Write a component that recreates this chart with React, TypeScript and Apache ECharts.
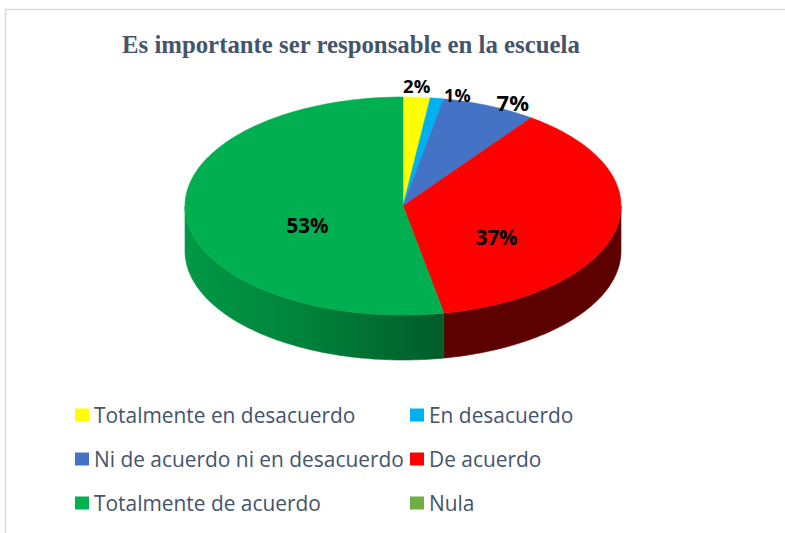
import React, { useEffect, useRef } from 'react';
import * as echarts from 'echarts';

// ---------- data ----------
const categories = [
  'Totalmente en desacuerdo',
  'En desacuerdo',
  'Ni de acuerdo ni en desacuerdo',
  'De acuerdo',
  'Totalmente de acuerdo',
  'Nula',
];
const values = [2, 1, 7, 37, 53, 0];
const chartTitle = 'Es importante ser responsable en la escuela';
const caption = 'Gráfico 6:';

// ---------- styles ----------
const sliceColors = ['#FFFF00', '#00B0F0', '#4472C4', '#FF0000', '#00B050', '#70AD47'];
const labelFontSizes = [18.5, 18, 22, 20.5, 20.5, 20];
const TEXT_COLOR = '#44546A';

// pie geometry (pixels)
const CX = 403;
const CY = 206;
const RX = 218;
const RY = 109;
const DEPTH = 45;

const total = values.reduce((a, b) => a + b, 0);
const cum: number[] = [0];
values.forEach((v) => cum.push(cum[cum.length - 1] + v));

function hexToHsl(hex: string): [number, number, number] {
  const r = parseInt(hex.slice(1, 3), 16) / 255;
  const g = parseInt(hex.slice(3, 5), 16) / 255;
  const b = parseInt(hex.slice(5, 7), 16) / 255;
  const max = Math.max(r, g, b);
  const min = Math.min(r, g, b);
  const l = (max + min) / 2;
  let h = 0;
  let s = 0;
  if (max !== min) {
    const d = max - min;
    s = l > 0.5 ? d / (2 - max - min) : d / (max + min);
    if (max === r) h = (g - b) / d + (g < b ? 6 : 0);
    else if (max === g) h = (b - r) / d + 2;
    else h = (r - g) / d + 4;
    h /= 6;
  }
  return [h, s, l];
}

function hslToHex(h: number, s: number, l: number): string {
  const f = (n: number) => {
    const k = (n + h * 12) % 12;
    const a = s * Math.min(l, 1 - l);
    const c = l - a * Math.max(-1, Math.min(k - 3, 9 - k, 1));
    return Math.round(c * 255)
      .toString(16)
      .padStart(2, '0');
  };
  return '#' + f(0) + f(8) + f(4);
}

function withLightness(hex: string, l: number) {
  const [h, s] = hexToHsl(hex);
  return hslToHex(h, s, l);
}

function pt(deg: number, dy = 0): number[] {
  const r = (deg * Math.PI) / 180;
  return [CX + RX * Math.sin(r), CY - RY * Math.cos(r) + dy];
}

function arc(a: number, b: number, dy: number): number[][] {
  const n = Math.max(2, Math.ceil(Math.abs(b - a)));
  const out: number[][] = [];
  for (let i = 0; i <= n; i++) out.push(pt(a + ((b - a) * i) / n, dy));
  return out;
}

function sideFill(color: string) {
  return {
    type: 'linear',
    x: CX - RX,
    y: 0,
    x2: CX + RX,
    y2: 0,
    global: true,
    colorStops: [
      { offset: 0, color: withLightness(color, 0.3) },
      { offset: 0.3, color: withLightness(color, 0.25) },
      { offset: 0.59, color: withLightness(color, 0.18) },
      { offset: 1, color: withLightness(color, 0.185) },
    ],
  };
}

export default function App() {
  const ref = useRef<HTMLDivElement>(null);

  useEffect(() => {
    if (!ref.current) return;
    const chart = echarts.init(ref.current, undefined, { renderer: 'svg' });

    const legendText = {
      fontFamily: '"Open Sans", sans-serif',
      fontSize: 20.9,
      color: TEXT_COLOR,
      lineHeight: 24,
    };

    const option: any = {
      animation: false,
      backgroundColor: '#FFFFFF',
      title: {
        text: chartTitle,
        left: 122,
        top: 31.5,
        padding: 0,
        textStyle: {
          fontFamily: '"Liberation Serif", "Times New Roman", serif',
          fontWeight: 'bold',
          fontSize: 24.8,
          color: TEXT_COLOR,
        },
      },
      legend: [
        {
          data: [categories[0], categories[2], categories[4]],
          orient: 'vertical',
          left: 75,
          top: 403,
          padding: 0,
          icon: 'rect',
          itemWidth: 14,
          itemHeight: 13,
          itemGap: 20,
          selectedMode: false,
          textStyle: legendText,
        },
        {
          data: [categories[1], categories[3], categories[5]],
          orient: 'vertical',
          left: 410,
          top: 403,
          padding: 0,
          icon: 'rect',
          itemWidth: 14,
          itemHeight: 13,
          itemGap: 20,
          selectedMode: false,
          textStyle: legendText,
        },
      ],
      graphic: [
        {
          type: 'rect',
          shape: { x: 5.5, y: 9.5, width: 900, height: 900 },
          style: { fill: 'none', stroke: '#D6DBE2', lineWidth: 1.5 },
          silent: true,
        },
        {
          type: 'text',
          x: -1,
          y: 3,
          style: {
            text: caption,
            font: '20px "Liberation Serif", serif',
            fill: '#000000',
            verticalAlign: 'bottom',
          },
          silent: true,
        },
      ],
      series: [
        {
          // provides legend entries/colours; drawn with zero size
          type: 'pie',
          name: 'legend',
          center: [-100, -100],
          radius: [0, 1],
          silent: true,
          label: { show: false },
          labelLine: { show: false },
          data: values.map((v, i) => ({
            name: categories[i],
            value: v,
            itemStyle: { color: sliceColors[i] },
          })),
        },
        {
          type: 'custom',
          name: 'pie3d',
          coordinateSystem: 'none',
          silent: true,
          data: values.map((v, i) => ({ name: categories[i], value: v })),
          renderItem: (params: any, api: any) => {
            const i = params.dataIndex;
            const v = api.value(0) as number;
            if (!v) return { type: 'group', children: [] };
            const a0 = (cum[i] / total) * 360;
            const a1 = (cum[i + 1] / total) * 360;
            const color = sliceColors[i];
            const children: any[] = [];

            // visible outer wall (front half)
            const s = Math.max(a0, 90);
            const e = Math.min(a1, 270);
            if (e > s) {
              const pts = [...arc(s, e, 0), ...arc(s, e, DEPTH).reverse()];
              const fill = sideFill(color);
              children.push({
                type: 'polygon',
                shape: { points: pts },
                style: { fill, stroke: fill, lineWidth: 0.6 },
                z2: 1,
              });
            }

            // top face
            const topPts = [[CX, CY], ...arc(a0, a1, 0)];
            children.push({
              type: 'polygon',
              shape: { points: topPts },
              style: { fill: color, stroke: color, lineWidth: 0.6 },
              z2: 2,
            });

            // percentage label
            const pct = v / total;
            const mid = (a0 + a1) / 2;
            const rad = (mid * Math.PI) / 180;
            const sn = Math.sin(rad);
            const cs = Math.cos(rad);
            let x: number;
            let y: number;
            let align = 'center';
            if (pct >= 0.1) {
              x = CX + 0.44 * RX * sn;
              y = CY + 10 - 0.89 * RY * cs;
            } else {
              const rim = pt(mid);
              if (sn > 0.1) {
                align = 'left';
                x = rim[0] + 7;
                y = rim[1] - 3.5;
              } else {
                x = rim[0];
                y = rim[1] - 12;
              }
            }
            children.push({
              type: 'text',
              x,
              y,
              z2: 100,
              style: {
                text: Math.round(pct * 100) + '%',
                fill: '#000000',
                font: `bold ${labelFontSizes[i]}px "Open Sans", sans-serif`,
                align,
                verticalAlign: 'middle',
              },
            });
            return { type: 'group', children };
          },
        },
      ],
    };

    chart.setOption(option);
    return () => chart.dispose();
  }, []);

  return (
    <div
      ref={ref}
      style={{
        position: 'fixed',
        left: 0,
        top: 0,
        width: 785,
        height: 533,
        background: '#FFFFFF',
      }}
    />
  );
}
